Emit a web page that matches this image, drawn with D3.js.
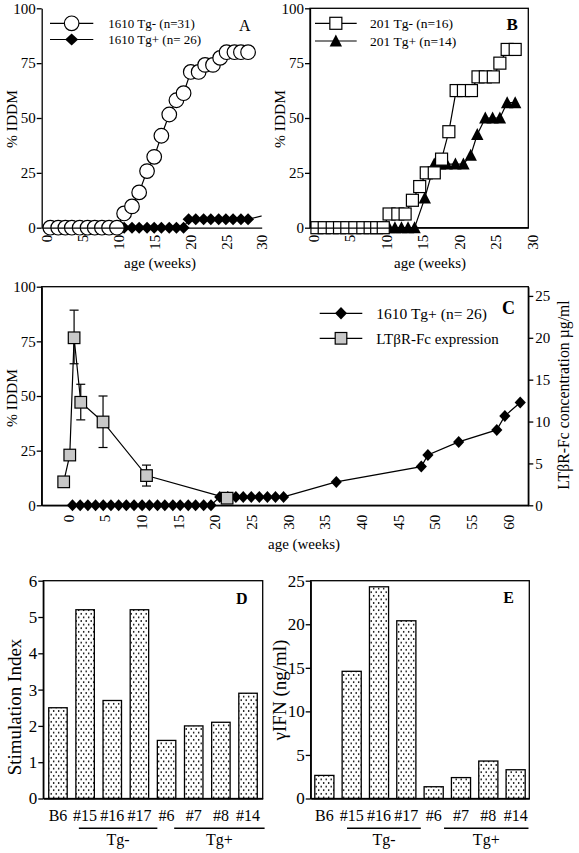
<!DOCTYPE html>
<html><head><meta charset="utf-8">
<script src="https://cdn.jsdelivr.net/npm/d3@7"></script>
<style>
body{margin:0;background:#fff;}
svg{display:block;}
</style></head><body>
<svg id="fig" width="579" height="853"></svg>
<script>
// ---------------- DATA ----------------
// Panel A : 1610 line
const weeksA_neg = [0.5,1.6,2.6,3.5,4.6,5.7,6.7,7.7,8.7,9.8,10.8,11.9,12.9,14.0,15.0,16.0,17.1,18.1,19.1,20.1,21.2,22.1,23.2,24.2,25.1,26.2,27.1,28.1];
const iddmA_neg  = [0,0,0,0,0,0,0,0,0,0,6.5,9.7,16.1,25.8,32.3,41.9,51.6,58.1,61.3,71,71,74.2,74.2,77.4,80,80,80,80];
const weeksA_pos = [0.5,1.6,2.6,3.5,4.6,5.7,6.7,7.7,8.7,9.8,10.8,11.9,12.9,14.0,15.0,16.0,17.1,18.1,19.1,19.8,20.8,21.9,22.9,24.0,25.0,26.0,27.1,28.1,36.6];
const iddmA_pos  = [0,0,0,0,0,0,0,0,0,0,0,0,0,0,0,0,0,0,0,3.85,3.85,3.85,3.85,3.85,3.85,3.85,3.85,3.85,10.7];
const legendA = ["1610 Tg- (n=31)","1610 Tg+ (n= 26)"];

// Panel B : 201 line
const weeksB_neg = [0.5,1.5,2.6,3.6,4.6,5.7,6.8,7.8,8.7,9.6,10.4,11.6,12.6,13.6,14.6,15.5,16.6,17.6,18.6,19.6,20.6,21.7,22.6,23.6,24.7,25.6,26.6,27.7];
const iddmB_neg  = [0,0,0,0,0,0,0,0,0,0,6.25,6.25,6.25,12.5,18.75,25,25,31.25,43.75,62.5,62.5,62.5,68.75,68.75,68.75,75,81.25,81.25];
const weeksB_pos = [0.5,1.5,2.6,3.6,4.6,5.7,6.8,7.8,8.7,9.6,10.4,11.2,12.1,13.0,13.9,15.3,16.6,17.4,18.3,19.5,20.6,21.6,22.5,23.6,24.6,25.6,26.6,27.7];
const iddmB_pos  = [0,0,0,0,0,0,0,0,0,0,0,0,0,0,0,13.5,29,29,29,29,29,33,42.5,50,50,50,57,57];
const legendB = ["201 Tg- (n=16)","201 Tg+ (n=14)"];

// Panel C
const weeksC_pos = [0.6,1.65,2.7,3.75,4.8,5.85,6.9,7.95,9.0,10.1,11.1,12.2,13.2,14.3,15.3,16.4,17.4,18.5,19.5,20.7,21.8,22.9,23.9,25.0,26.1,27.2,28.3,29.4,36.6,48.2,49.1,53.3,58.5,59.6,61.7];
const iddmC_pos  = [0,0,0,0,0,0,0,0,0,0,0,0,0,0,0,0,0,0,0,3.85,3.85,3.85,3.85,3.85,3.85,3.85,3.85,3.85,10.7,17.7,23.0,29.0,34.5,40.9,47.0];
const weeksLtbr  = [-0.6,0.23,0.82,1.73,4.77,10.7,21.7];
const ltbrConc   = [2.8,6.0,20.0,12.3,9.95,3.55,0.85];
const ltbrHigh   = [null,null,23.3,14.45,13.05,4.8,null];
const ltbrLow    = [null,null,16.9,10.2,6.9,2.3,null];
const legendC = ["1610 Tg+ (n= 26)","LT\u03B2R-Fc expression"];

// Panels D, E
const mice = ["B6","#15","#16","#17","#6","#7","#8","#14"];
const stimIndex = [2.5,5.2,2.7,5.2,1.6,2.0,2.1,2.9];
const ifnGamma  = [2.65,14.6,24.3,20.4,1.35,2.4,4.3,3.3];
const groupNames = ["Tg-","Tg+"];
const groupMembers = [["#15","#16","#17"],["#6","#7","#8","#14"]];

// tick labels
const ticksWeeksAB = [0,5,10,15,20,25,30];
const ticksWeeksC = [0,5,10,15,20,25,30,35,40,45,50,55,60];
const ticksIddm = [0,25,50,75,100];
const ticksConc = [0,5,10,15,20,25];
const ticksStim = [0,1,2,3,4,5,6];
const ticksIfn = [0,5,10,15,20,25];

// ---------------- DRAWING ----------------
const FONT = '"Liberation Serif","Times New Roman",Times,serif';
const fmtInt = d3.format("d");
const svg = d3.select("#fig").attr("font-family", FONT);
const defs = svg.append("defs");
const pat = defs.append("pattern").attr("id","stipple").attr("patternUnits","userSpaceOnUse")
  .attr("width",5).attr("height",7.2);
pat.append("rect").attr("width",5).attr("height",7.2).attr("fill","#fff");
pat.append("circle").attr("cx",1.2).attr("cy",1.8).attr("r",0.8).attr("fill","#000");
pat.append("circle").attr("cx",3.7).attr("cy",5.4).attr("r",0.8).attr("fill","#000");

const LW = 1.2, AW = 1.3;

function fmtAxis(g, fs){
  g.attr("font-family",FONT).attr("font-size",fs);
  g.select(".domain").attr("stroke","#000").attr("stroke-width",AW);
  g.selectAll(".tick line").attr("stroke","#000").attr("stroke-width",AW);
  g.selectAll(".tick text").attr("fill","#000").attr("font-family",FONT).attr("font-size",fs);
}
function rotX(g, gap){
  g.selectAll(".tick text").attr("y",0).attr("dy","0.35em").attr("text-anchor","end")
    .attr("transform",`translate(0,${gap}) rotate(-90)`);
}
const mk = {
  circle: (g,x,y)=>g.append("circle").attr("cx",x).attr("cy",y).attr("r",7.3).attr("fill","#fff").attr("stroke","#000").attr("stroke-width",LW),
  diamond: (g,x,y,w=6,h=6)=>g.append("path").attr("d",`M${x},${y-h}L${x+w},${y}L${x},${y+h}L${x-w},${y}Z`).attr("fill","#000"),
  square: (g,x,y,s=6,fill="#fff")=>g.append("rect").attr("x",x-s).attr("y",y-s).attr("width",2*s).attr("height",2*s).attr("fill",fill).attr("stroke","#000").attr("stroke-width",LW),
  triangle: (g,x,y)=>g.append("path").attr("d",`M${x},${y-6.5}L${x+6.2},${y+5.5}L${x-6.2},${y+5.5}Z`).attr("fill","#000")
};
function series(g, xs, ys, xS, yS, draw, clipId){
  const line = d3.line().x((d,i)=>xS(xs[i])).y(d=>yS(d));
  const p = g.append("path").datum(ys).attr("d",line).attr("fill","none").attr("stroke","#000").attr("stroke-width",LW);
  if (clipId) p.attr("clip-path",`url(#${clipId})`);
  const [d0,d1] = xS.domain();
  ys.forEach((v,i)=>{ if (xs[i]>=d0 && xs[i]<=d1) draw(g, xS(xs[i]), yS(v)); });
}
function legendRow(g, x0, x1, y, tx, text, fs, draw){
  g.append("line").attr("x1",x0).attr("x2",x1).attr("y1",y).attr("y2",y).attr("stroke","#000").attr("stroke-width",LW);
  draw(g,(x0+x1)/2,y);
  g.append("text").attr("x",tx).attr("y",y).attr("dy","0.35em").attr("font-size",fs).text(text);
}
function rotLabel(x, y, text, fs){
  svg.append("text").attr("transform",`translate(${x},${y}) rotate(-90)`).attr("text-anchor","middle")
    .attr("font-size",fs).text(text);
}
function label(x,y,text,fs,opts={}){
  const t = svg.append("text").attr("x",x).attr("y",y).attr("font-size",fs).text(text);
  if (opts.anchor) t.attr("text-anchor",opts.anchor);
  if (opts.bold) t.attr("font-weight","bold");
  return t;
}

// ---------- Panel A ----------
{
  const L=41.7, R=261.7, T=8.3, B=227.7;
  const x = d3.scaleLinear().domain([-0.7,30]).range([L,R]);
  const y = d3.scaleLinear().domain([0,100]).range([B,T]);
  defs.append("clipPath").attr("id","clipA").append("rect").attr("x",0).attr("y",0).attr("width",R).attr("height",260);
  const g = svg.append("g");
  series(g, weeksA_pos, iddmA_pos, x, y, (g,a,b)=>mk.diamond(g,a,b,6,6), "clipA");
  series(g, weeksA_neg, iddmA_neg, x, y, mk.circle);
  const ay = svg.append("g").attr("transform",`translate(${L},0)`)
    .call(d3.axisLeft(y).tickValues(ticksIddm).tickFormat(fmtInt).tickSize(5).tickPadding(1).tickSizeOuter(0));
  fmtAxis(ay,15);
  const ax = svg.append("g").attr("transform",`translate(0,${B})`)
    .call(d3.axisBottom(x).tickValues(ticksWeeksAB).tickFormat(fmtInt).tickSize(0).tickSizeOuter(0));
  fmtAxis(ax,15); rotX(ax,7);
  legendRow(svg, 50, 93.3, 23.3, 108.3, legendA[0], 13, (g,a,b)=>mk.circle(g,a,b));
  legendRow(svg, 50, 93.3, 39.5, 108.3, legendA[1], 13, (g,a,b)=>mk.diamond(g,a,b,6.5,6));
  label(239,30.5,"A",16);
  rotLabel(16.5,119,"% IDDM",15.5);
  label(160,268,"age (weeks)",15,{anchor:"middle"});
}

// ---------- Panel B ----------
{
  const L=310, R=528.3, T=8.3, B=227.7;
  const x = d3.scaleLinear().domain([-0.45,29.5]).range([L,R]);
  const y = d3.scaleLinear().domain([0,100]).range([B,T]);
  svg.append("rect").attr("x",L).attr("y",T).attr("width",R-L).attr("height",B-T).attr("fill","none").attr("stroke","#000").attr("stroke-width",AW);
  const g = svg.append("g");
  series(g, weeksB_pos, iddmB_pos, x, y, mk.triangle);
  series(g, weeksB_neg, iddmB_neg, x, y, (g,a,b)=>mk.square(g,a,b,6));
  const ay = svg.append("g").attr("transform",`translate(${L},0)`)
    .call(d3.axisLeft(y).tickValues(ticksIddm).tickFormat(fmtInt).tickSize(5).tickPadding(1).tickSizeOuter(0));
  fmtAxis(ay,15);
  const ax = svg.append("g").attr("transform",`translate(0,${B})`)
    .call(d3.axisBottom(x).tickValues(ticksWeeksAB).tickFormat(fmtInt).tickSize(0).tickSizeOuter(0));
  fmtAxis(ax,15); rotX(ax,7);
  legendRow(svg, 315, 356.7, 23.3, 370, legendB[0], 13.5, (g,a,b)=>mk.square(g,a,b,6));
  legendRow(svg, 315, 356.7, 41, 370, legendB[1], 13.5, mk.triangle);
  label(506.5,29.5,"B",17,{bold:true});
  rotLabel(285,119,"% IDDM",15.5);
  label(430,268,"age (weeks)",15,{anchor:"middle"});
}

// ---------- Panel C ----------
{
  const L=41.7, R=528.3, T=286.7, B=505.3;
  const x = d3.scaleLinear().domain([-3.6,62.8]).range([L,R]);
  const y = d3.scaleLinear().domain([0,100]).range([B,T]);
  const yr = d3.scaleLinear().domain([0,26.1]).range([B,T]);
  svg.append("rect").attr("x",L).attr("y",T).attr("width",R-L).attr("height",B-T).attr("fill","none").attr("stroke","#000").attr("stroke-width",AW);
  const g = svg.append("g");
  series(g, weeksC_pos, iddmC_pos, x, y, (g,a,b)=>mk.diamond(g,a,b,5.6,6));
  // error bars
  weeksLtbr.forEach((w,i)=>{
    if (ltbrHigh[i]==null) return;
    const cx = x(w), y1 = yr(ltbrHigh[i]), y2 = yr(ltbrLow[i]);
    g.append("line").attr("x1",cx).attr("x2",cx).attr("y1",y1).attr("y2",y2).attr("stroke","#000").attr("stroke-width",LW);
    [y1,y2].forEach(yy=>g.append("line").attr("x1",cx-4.5).attr("x2",cx+4.5).attr("y1",yy).attr("y2",yy).attr("stroke","#000").attr("stroke-width",LW));
  });
  series(g, weeksLtbr, ltbrConc, x, yr, (g,a,b)=>mk.square(g,a,b,5.8,"#c8c8c8"));
  const ay = svg.append("g").attr("transform",`translate(${L},0)`)
    .call(d3.axisLeft(y).tickValues(ticksIddm).tickFormat(fmtInt).tickSize(5).tickPadding(1).tickSizeOuter(0));
  fmtAxis(ay,15);
  const ayr = svg.append("g").attr("transform",`translate(${R},0)`)
    .call(d3.axisRight(yr).tickValues(ticksConc).tickFormat(fmtInt).tickSize(5).tickPadding(2).tickSizeOuter(0));
  fmtAxis(ayr,15);
  const ax = svg.append("g").attr("transform",`translate(0,${B})`)
    .call(d3.axisBottom(x).tickValues(ticksWeeksC).tickFormat(fmtInt).tickSize(0).tickSizeOuter(0));
  fmtAxis(ax,15); rotX(ax,9.5);
  legendRow(svg, 319.7, 362.3, 313.3, 376.3, legendC[0], 15.5, (g,a,b)=>mk.diamond(g,a,b,6,6.2));
  legendRow(svg, 319.7, 362.3, 338.3, 376.3, legendC[1], 15, (g,a,b)=>mk.square(g,a,b,5.8,"#c8c8c8"));
  label(502,313.5,"C",18,{bold:true});
  rotLabel(16.5,398,"% IDDM",15.5);
  rotLabel(569,395,"LT\u03B2R-Fc concentration \u00B5g/ml",15.8);
  label(304,549,"age (weeks)",15,{anchor:"middle"});
}

// ---------- Panels D & E ----------
function barPanel(cfg){
  const {L,R,T,B,vals,dom,ticks,pin,pout,letter,lx,ly,ylab,ylx,yly,grp} = cfg;
  const x = d3.scaleBand().domain(mice).range([L,R]).paddingInner(pin).paddingOuter(pout);
  const y = d3.scaleLinear().domain(dom).range([B,T]);
  svg.append("g").selectAll("rect").data(vals).enter().append("rect")
    .attr("x",(d,i)=>x(mice[i])).attr("width",x.bandwidth())
    .attr("y",d=>y(d)).attr("height",d=>B-y(d))
    .attr("fill","url(#stipple)").attr("stroke","#000").attr("stroke-width",AW);
  svg.append("rect").attr("x",L).attr("y",T).attr("width",R-L).attr("height",B-T).attr("fill","none").attr("stroke","#000").attr("stroke-width",AW);
  const ay = svg.append("g").attr("transform",`translate(${L},0)`)
    .call(d3.axisLeft(y).tickValues(ticks).tickFormat(fmtInt).tickSize(5).tickPadding(1).tickSizeOuter(0));
  fmtAxis(ay,17);
  const ax = svg.append("g").attr("transform",`translate(0,${B})`)
    .call(d3.axisBottom(x).tickSize(0).tickPadding(11).tickSizeOuter(0));
  fmtAxis(ax,16);
  const step = x.step();
  groupNames.forEach((name,k)=>{
    const m = groupMembers[k];
    const x1 = x(m[0]) + grp[k][0]*step, x2 = x(m[m.length-1]) + grp[k][1]*step;
    svg.append("line").attr("x1",x1).attr("x2",x2).attr("y1",828.3).attr("y2",828.3).attr("stroke","#000").attr("stroke-width",1.6);
    label((x1+x2)/2, 845, name, 16, {anchor:"middle"});
  });
  label(lx,ly,letter,16,{bold:true});
  rotLabel(ylx,yly,ylab,19);
}
barPanel({L:43.3,R:262.7,T:580.7,B:798.5,vals:stimIndex,dom:[0,6],ticks:ticksStim,pin:0.32,pout:0.2,
  letter:"D",lx:236,ly:603.5,ylab:"Stimulation Index",ylx:20.5,yly:707,grp:[[0.11,1.0],[0.62,0.95]]});
barPanel({L:310.7,R:529.3,T:580.7,B:798.5,vals:ifnGamma,dom:[0,25],ticks:ticksIfn,pin:0.3,pout:0.15,
  letter:"E",lx:503.3,ly:602.7,ylab:"\u03B3IFN (ng/ml)",ylx:286,yly:690,grp:[[0.18,0.88],[0.73,0.82]]});
</script>
</body></html>
